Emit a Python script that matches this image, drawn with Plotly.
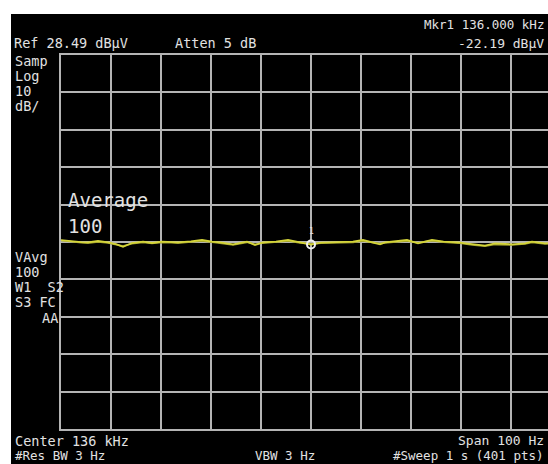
import plotly.graph_objects as go

# Analyzer settings shown on screen
ref_level_dbuv = 28.49
db_per_div = 10
center_khz = 136
span_hz = 100
marker_offset_hz = 0.0
marker_level_dbuv = -22.19

# Averaged trace (offset from center in Hz, level in dBuV)
freq_offset_hz = [-50.0, -48.0, -46.0, -44.6, -42.6, -40.6, -39.0, -37.6, -35.8, -33.6,
                  -31.8, -29.8, -28.0, -26.6, -24.0, -21.8, -19.8, -18.2, -15.6, -12.8,
                  -11.2, -9.6, -7.0, -4.6, -2.2, 0.0, 2.0, 3.8, 6.0, 8.4,
                  10.4, 12.0, 13.8, 14.8, 17.0, 19.2, 21.4, 24.2, 26.5, 29.4,
                  32.2, 34.8, 36.8, 38.5, 40.2, 42.8, 44.2, 46.8, 50.0]
level_dbuv = [-20.98, -21.30, -21.55, -21.60, -21.24, -21.60, -22.10, -22.78, -21.78, -21.43,
              -21.78, -21.43, -21.55, -21.60, -21.35, -20.98, -21.43, -21.60, -22.13, -21.43,
              -22.31, -21.60, -21.40, -20.98, -21.60, -22.19, -21.70, -21.60, -21.55, -21.43,
              -20.98, -21.45, -22.13, -21.60, -21.35, -20.98, -21.87, -20.98, -21.40, -21.60,
              -22.05, -22.50, -21.87, -22.00, -22.13, -21.87, -21.43, -21.87, -21.70]
# Second (held) trace, slightly darker
level2_dbuv = [-21.10, -21.45, -21.70, -21.80, -21.50, -21.75, -22.30, -22.60, -21.95, -21.60,
               -21.90, -21.60, -21.70, -21.80, -21.50, -21.20, -21.55, -21.80, -22.30, -21.60,
               -22.10, -21.80, -21.55, -21.20, -21.75, -22.00, -21.85, -21.75, -21.70, -21.60,
               -21.20, -21.65, -21.95, -21.80, -21.50, -21.20, -21.70, -21.15, -21.55, -21.80,
               -22.30, -22.60, -22.20, -22.25, -22.30, -22.05, -21.65, -22.00, -21.85]

W, H = 548, 464
L, T, B = 61, 55, 35
PW, PH = W - L, H - T - B
FONT = "DejaVu Sans Mono"
TXT = "#e2e2e2"
GRID = "#b4b4b4"

y_bottom = ref_level_dbuv - 10 * db_per_div
div_hz = span_hz / 10
x_left = -span_hz / 2
x_right = x_left + PW / (500 / 10) * div_hz


def px(x):
    return (x - L) / PW


def py(y):
    return (H - B - y) / PH


fig = go.Figure()
fig.add_trace(go.Scatter(x=freq_offset_hz, y=level2_dbuv, mode="lines",
                         line=dict(color="#9a9a2a", width=1.6), hoverinfo="skip"))
fig.add_trace(go.Scatter(x=freq_offset_hz, y=level_dbuv, mode="lines",
                         line=dict(color="#d4d43a", width=1.8), hoverinfo="skip"))
fig.add_trace(go.Scatter(x=[marker_offset_hz], y=[marker_level_dbuv], mode="markers",
                         marker=dict(symbol="circle-open", size=8, color="#f0f0f0",
                                     line=dict(width=2, color="#f0f0f0")),
                         hoverinfo="skip"))

ann = []


def label(text, x, y, size=13.5, anchor="left"):
    ann.append(dict(text=text, x=px(x), y=py(y), xref="paper", yref="paper",
                    xanchor=anchor, yanchor="middle", showarrow=False,
                    font=dict(family=FONT, size=size, color=TXT)))


label("Ref 28.49 dB\u03bcV", 12, 43)
label("Atten 5 dB", 173, 43)
label("Mkr1 136.000 kHz", 546, 25, size=12.5, anchor="right")
label("-22.19 dB\u03bcV", 546, 43, size=13, anchor="right")
for i, t in enumerate(["Samp", "Log", "10", "dB/"]):
    label(t, 13, 61 + 15 * i)
for i, t in enumerate(["VAvg", "100", "W1  S2", "S3 FC"]):
    label(t, 13, 257 + 15 * i)
label("AA", 40, 318)
label("Average", 66, 200, size=19)
label("100", 66, 226, size=19)
label("Center 136 kHz", 13, 441)
label("Span 100 Hz", 546, 441, size=13, anchor="right")
label("#Res BW 3 Hz", 13, 455, size=12.5)
label("VBW 3 Hz", 253, 455, size=12.5)
label("#Sweep 1 s (401 pts)", 546, 455, size=12.5, anchor="right")

ann.append(dict(text="1", x=marker_offset_hz, y=marker_level_dbuv, xref="x", yref="y",
                yshift=13, showarrow=False, font=dict(family=FONT, size=8, color=TXT)))

fig.update_layout(
    width=W, height=H,
    margin=dict(l=L, r=0, t=T, b=B, pad=0),
    paper_bgcolor="black", plot_bgcolor="black",
    showlegend=False,
    annotations=ann,
    shapes=[
        dict(type="rect", xref="paper", yref="paper", x0=px(-5), x1=px(W + 5),
             y0=py(14), y1=py(-5), fillcolor="white", line=dict(width=0), layer="above"),
        dict(type="rect", xref="paper", yref="paper", x0=px(-5), x1=px(11),
             y0=py(H + 5), y1=py(-5), fillcolor="white", line=dict(width=0), layer="above"),
    ],
    xaxis=dict(range=[x_left, x_right], tick0=x_left, dtick=div_hz, showticklabels=False,
               ticks="", showgrid=True, gridcolor=GRID, gridwidth=1.5, zeroline=False,
               showline=True, linecolor=GRID, linewidth=2, mirror=True),
    yaxis=dict(range=[y_bottom, ref_level_dbuv], tick0=y_bottom, dtick=db_per_div,
               showticklabels=False, ticks="", showgrid=True, gridcolor=GRID, gridwidth=1.5,
               zeroline=False, showline=True, linecolor=GRID, linewidth=2),
)

fig.write_html("out.html")
